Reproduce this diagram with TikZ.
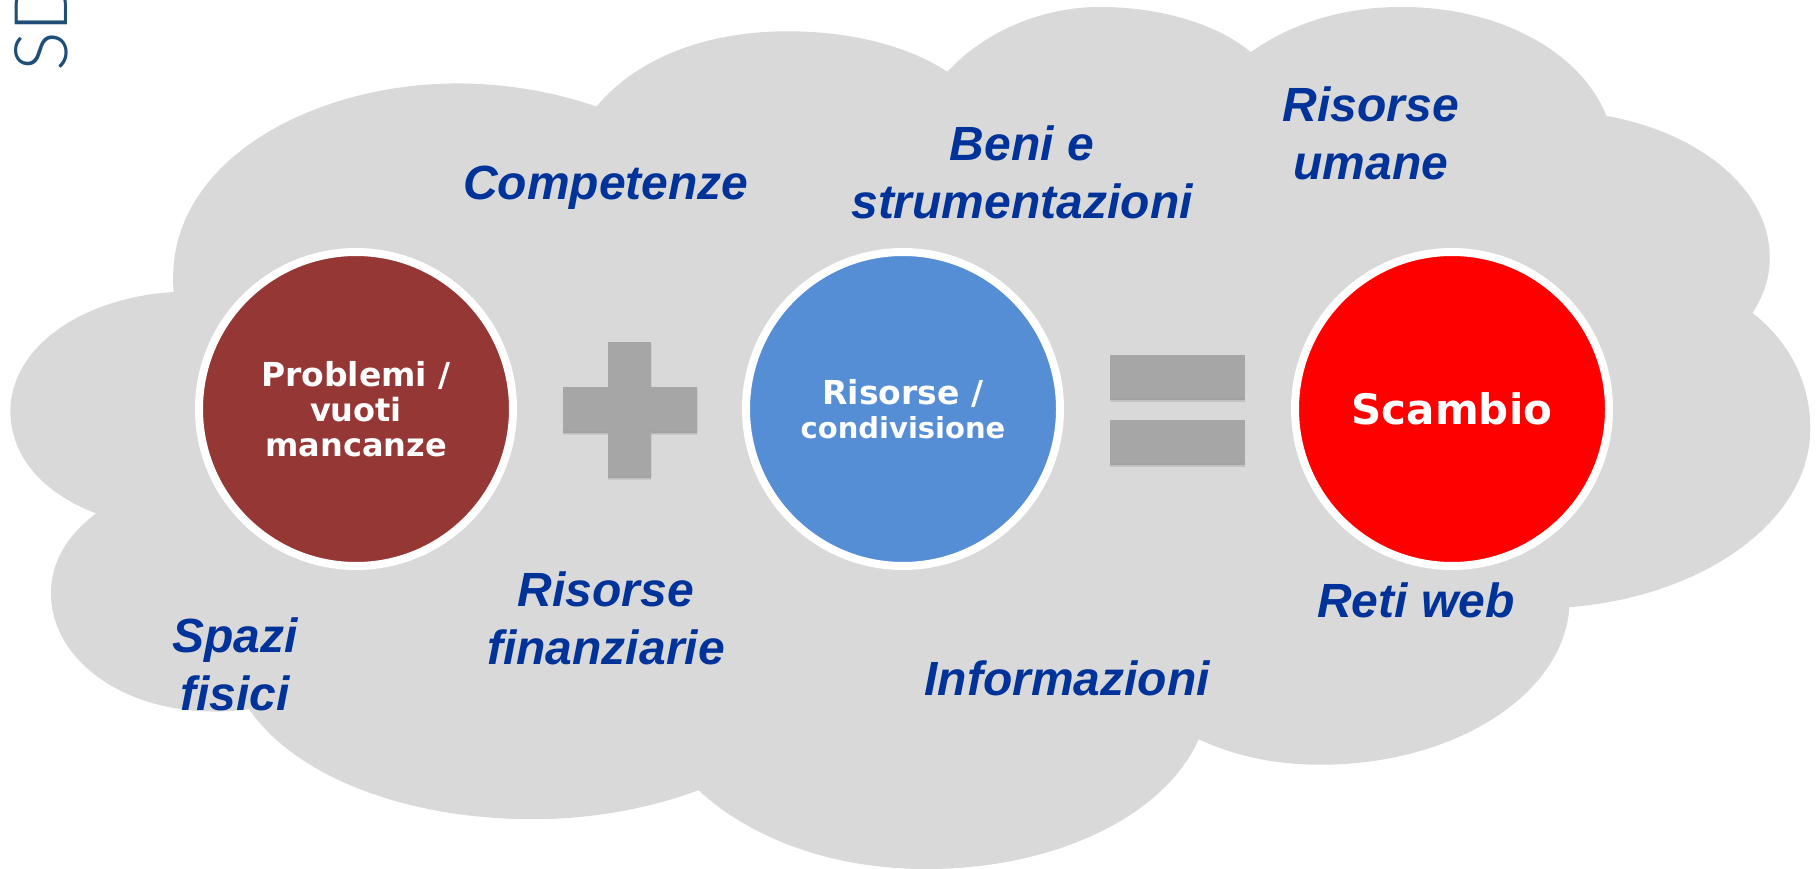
\documentclass[tikz,border=0pt]{standalone}
\usepackage{fontspec}
\usetikzlibrary{shadows}
\setmainfont{Liberation Sans}
\newfontfamily\circfont{DejaVu Sans}
\newfontfamily\logofont{Lato Light}
\definecolor{cloudgrey}{HTML}{D9D9D9}
\definecolor{signgrey}{HTML}{A6A6A6}
\definecolor{wordblue}{HTML}{003399}
\definecolor{logoblue}{HTML}{1F4E79}
\definecolor{discbrown}{HTML}{953735}
\definecolor{discblue}{HTML}{558ED5}
\tikzset{
  softshadow/.style={
    drop shadow={shadow xshift=0pt,shadow yshift=-3.5pt,opacity=.10,fill=black},
    drop shadow={shadow xshift=0pt,shadow yshift=-2pt,opacity=.16,fill=black}},
  disc/.style={circle,draw=white,line width=8pt,minimum size=314pt,inner sep=0pt,outer sep=0pt,
    text=white,align=center,softshadow},
  word/.style={text=wordblue,font=\fontsize{48}{58}\selectfont\bfseries\itshape,align=center,inner sep=0pt},
  sign/.style={fill=signgrey,softshadow},
}
\begin{document}
\begin{tikzpicture}[x=1pt,y=-1pt]
\useasboundingbox (0,0) rectangle (1816,869);
\fill[white] (0,0) rectangle (1816,869);
\node[rotate=90,anchor=west,text=logoblue,inner sep=0pt,font=\logofont\fontsize{74}{74}\selectfont] (logo) at (41,72) {SD};
\begin{scope}[xscale=1.1582,yscale=1.1587]
\fill[cloudgrey] (150,252) .. controls (140,140) and (270,72) .. (395,72) .. controls (435,72) and (478,79) .. (515,92)
 .. controls (550,50) and (610,27) .. (680,27) .. controls (735,27) and (785,40) .. (818,62)
 .. controls (850,27) and (900,6) .. (950,6) .. controls (1000,6) and (1050,20) .. (1080,45)
 .. controls (1115,20) and (1160,6) .. (1210,6) .. controls (1295,6) and (1365,45) .. (1387,100)
 .. controls (1470,115) and (1528,165) .. (1528,222) .. controls (1528,240) and (1523,255) .. (1513,270)
 .. controls (1545,295) and (1563,330) .. (1563,370) .. controls (1563,450) and (1470,515) .. (1355,524)
 .. controls (1350,600) and (1255,660) .. (1140,660) .. controls (1100,660) and (1065,652) .. (1035,638)
 .. controls (1005,705) and (910,750) .. (800,750) .. controls (720,750) and (650,725) .. (603,682)
 .. controls (560,698) and (510,707) .. (460,707) .. controls (350,707) and (255,670) .. (215,612)
 .. controls (120,625) and (44,575) .. (44,512) .. controls (44,485) and (58,462) .. (83,443)
 .. controls (35,425) and (9,392) .. (9,355) .. controls (9,300) and (70,257) .. (150,252) -- cycle;
\end{scope}
\node[disc,fill=discbrown,font=\circfont\fontsize{32}{35}\selectfont\bfseries] (problemi) at (356,409) {{\fontsize{33}{35}\selectfont Problemi /}\\vuoti\\mancanze};
\node[disc,fill=discblue,font=\circfont\fontsize{29}{33.5}\selectfont\bfseries] (risorse) at (903,409) {{\fontsize{33}{33.5}\selectfont Risorse /}\\condivisione};
\node[disc,fill=red,font=\circfont\fontsize{42}{50}\selectfont\bfseries] (scambio) at (1452,409) {Scambio};
\path[sign] (608,342) -- (651,342) -- (651,387) -- (697,387) -- (697,431) -- (651,431) -- (651,476) -- (608,476) -- (608,431) -- (563,431) -- (563,387) -- (608,387) -- cycle;
\path[sign] (1110,355) rectangle (1245,398);
\path[sign] (1110,420) rectangle (1245,463);
\node[word] (competenze) at (606,188) {Competenze};
\node[word] (beni) at (1022,172) {Beni e\\strumentazioni};
\node[word] (umane) at (1371,133) {Risorse\\umane};
\node[word] (spazi) at (235,664) {Spazi\\fisici};
\node[word] (finanz) at (606,618) {Risorse\\finanziarie};
\node[word] (info) at (1067,678) {Informazioni};
\node[word] (reti) at (1416,600) {Reti web};
\end{tikzpicture}
\end{document}
